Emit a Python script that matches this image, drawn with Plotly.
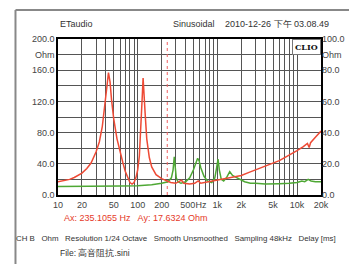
import plotly.graph_objects as go

# ---- data ----
red_f = [10, 12, 14, 16, 18, 20, 23, 26, 30, 33, 36, 39, 41, 43, 45, 47, 50, 55, 60, 65, 70, 75, 80,
         85, 90, 95, 100, 105, 110, 114, 117, 120, 124, 130, 140, 150, 170, 200, 235, 260, 300, 330,
         355, 380, 450, 520, 575, 620, 700, 850, 1000, 1200, 1500, 2000, 2500, 3000, 4000, 5000,
         6000, 7000, 8000, 10000, 12000, 13500, 14200, 14800, 17000, 20000]
red_z = [17, 18.5, 20, 22.5, 25.5, 28, 34, 41, 55, 68, 88, 115, 138, 157, 145, 122, 98, 72, 55, 42, 30, 22, 16,
         14, 16, 22, 32, 50, 85, 125, 150, 135, 105, 72, 48, 36, 26, 21, 17.6, 16, 15, 17,
         19, 15, 14, 15, 18, 15, 16, 18, 19, 20, 22, 25, 29, 32, 37, 41,
         44, 48, 51, 57, 62, 66, 61, 67, 74, 82]

green_f = [10, 30, 60, 100, 150, 200, 240, 265, 278, 288, 296, 305, 320, 350, 400, 450, 500, 540, 566,
           590, 620, 680, 750, 850, 930, 980, 1020, 1060, 1120, 1200, 1300, 1430, 1550, 1700, 1900,
           2200, 2600, 3000, 4000, 5000, 6000, 8000, 10000, 11500, 12500, 13800, 15000, 17000, 20000]
green_z = [11, 11, 11.5, 12, 13, 15, 17, 22, 32, 49, 35, 22, 17, 15, 17, 22, 32, 42, 47,
           44, 35, 24, 18, 16, 22, 35, 46, 32, 20, 18, 22, 30, 25, 23, 20,
           17, 15, 15, 14, 14, 14.5, 15, 16, 18, 17, 20, 18, 17, 17]

cursor_hz = 235.1055
cursor_ohm = 17.6324

x_grid = [m * d for d in (10, 100, 1000) for m in range(1, 10)] + [10000, 20000]
x_labels = {10: "10", 20: "20", 50: "50", 100: "100", 200: "200", 500: "500Hz",
            1000: "1k", 2000: "2k", 5000: "5k", 10000: "10k", 20000: "20k"}
y_left_vals = list(range(0, 201, 20))
y_left_text = {0: "0.0", 40: "40.0", 80: "80.0", 120: "120.0", 160: "160.0", 180: "Ohm", 200: "200.0"}
y_right_vals = [0, 20, 40, 60, 80, 90, 100]
y_right_text = ["0.0", "20.0", "40.0", "60.0", "80.0", "Ohm", "100.0"]

FONT = "Liberation Sans, Arial, sans-serif"
RED = "#ee4a35"
GREEN = "#4ea834"

fig = go.Figure()
fig.add_trace(go.Scatter(x=[cursor_hz, cursor_hz], y=[0, 200], mode="lines",
                         line=dict(color="#f06060", width=1, dash="dot"), hoverinfo="skip"))
fig.add_trace(go.Scatter(x=green_f, y=green_z, mode="lines", line=dict(color=GREEN, width=1.5)))
fig.add_trace(go.Scatter(x=red_f, y=red_z, mode="lines", line=dict(color=RED, width=1.5)))
fig.add_trace(go.Scatter(x=[10, 20000], y=[None, None], yaxis="y2", mode="lines", showlegend=False))

tick_font = dict(family=FONT, size=9, color="#444")
# the page body has an 8px default margin, so the figure is 8px smaller than the window
fig.update_layout(
    width=349, height=256,
    margin=dict(l=50, r=33, t=31, b=69),
    paper_bgcolor="white", plot_bgcolor="white",
    showlegend=False,
    xaxis=dict(type="log", range=[1, 4.30103], tickvals=x_grid,
               ticktext=[x_labels.get(v, "") for v in x_grid],
               showgrid=True, gridcolor="#555", gridwidth=1.3,
               showline=True, linecolor="black", linewidth=1.5, mirror=True,
               ticks="", tickfont=tick_font, zeroline=False, fixedrange=True),
    yaxis=dict(range=[0, 200], tickvals=y_left_vals,
               ticktext=[y_left_text.get(v, "") for v in y_left_vals],
               showgrid=True, gridcolor="#555", gridwidth=1.3,
               showline=True, linecolor="black", linewidth=1.5, mirror=True,
               ticks="", tickfont=tick_font, zeroline=False),
    yaxis2=dict(range=[0, 100], overlaying="y", side="right", tickvals=y_right_vals,
                ticktext=y_right_text, showgrid=False, zeroline=False, ticks="",
                tickfont=tick_font, showline=False),
)

# helpers: window pixel -> paper coordinates (plot area spans x 58..324, y 39..195 in the window)
def px(x):
    return (x - 58) / 266

def py(y):
    return (195 - y) / 156

anns = [
    ("ETaudio", 58, 24, "#333", 9),
    ("Sinusoidal", 172, 24, "#333", 9),
    ("2010-12-26 下午 03.08.49", 225, 24, "#333", 9),
    (f"Ax: {cursor_hz} Hz   Ay: {cursor_ohm} Ohm", 62, 218, "#e53a2a", 9),
    ("CH B   Ohm   Resolution 1/24 Octave   Smooth Unsmoothed   Sampling 48kHz   Delay [ms]", 14, 239, "#333", 7.9),
    ("File: 高音阻抗.sini", 58, 253, "#333", 8.5),
]
for text, x, y, col, sz in anns:
    fig.add_annotation(text=text, x=px(x), y=py(y), xref="paper", yref="paper",
                       xanchor="left", yanchor="middle", showarrow=False,
                       font=dict(family=FONT, size=sz, color=col))

# CLIO badge
fig.add_annotation(text="<b>CLIO</b>", x=1, y=1, xref="paper", yref="paper",
                   xanchor="right", yanchor="top", showarrow=False,
                   bgcolor="white", bordercolor="#777", borderwidth=1, borderpad=2,
                   font=dict(family="DejaVu Serif, serif", size=8, color="#111"))

# outer frame (top + left edges)
fig.add_shape(type="line", xref="paper", yref="paper", x0=px(15), x1=px(360), y0=py(10), y1=py(10),
              line=dict(color="#888", width=2))
fig.add_shape(type="line", xref="paper", yref="paper", x0=px(15), x1=px(15), y0=py(10), y1=py(270),
              line=dict(color="#888", width=2))

fig.write_html("out.html")
